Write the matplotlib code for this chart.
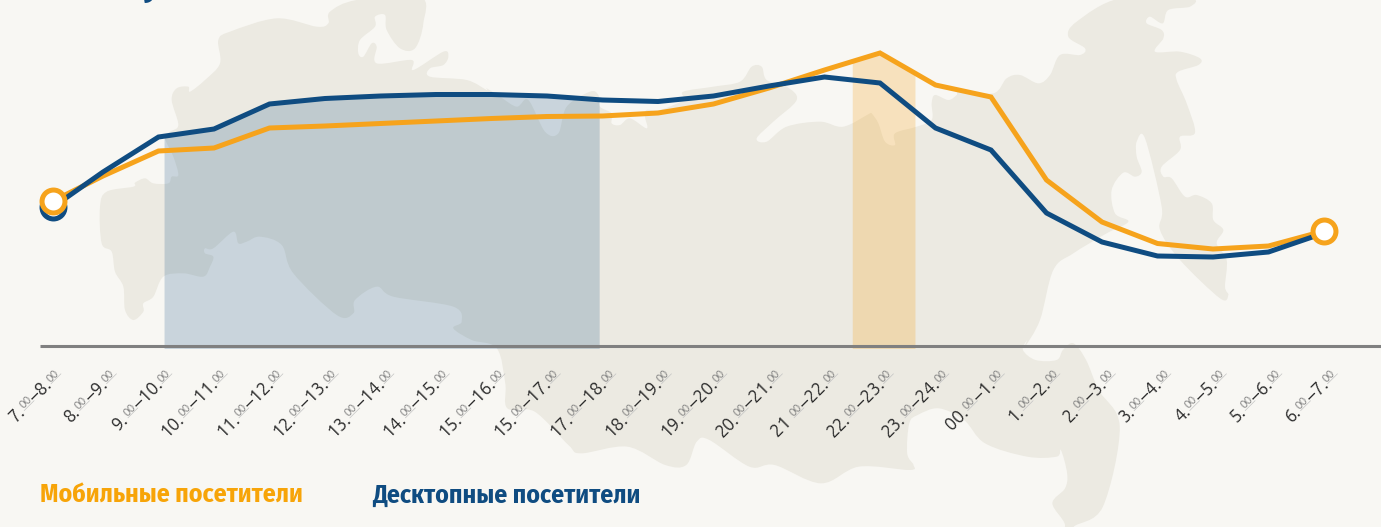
import numpy as np
import matplotlib
matplotlib.use('Agg')
import matplotlib.pyplot as plt
from matplotlib.path import Path
from matplotlib.patches import PathPatch

# hourly slots, the first point sits a little to the right of its slot
slots = [0.1] + list(range(1, 24))
mobile = [145, 170, 195, 198, 218, 220, 222.5, 225, 227.5, 229.5, 230, 233, 242,
          258, 276, 293, 261, 249, 166, 124, 102.5, 97, 100, 115]
desktop = [139, 174, 209, 217, 242, 247.5, 250, 251.5, 251.5, 250, 246, 244.5, 250,
           260, 269, 263, 218, 196, 133, 104, 90, 89, 94, 113]
tick_labels = ['7.|00|–8.|00', '8.|00|–9.|00', '9.|00|–10.|00', '10.|00|–11.|00',
               '11.|00|–12.|00', '12.|00|–13.|00', '13.|00|–14.|00', '14.|00|–15.|00',
               '15.|00|–16.|00', '15.|00|–17.|00', '17.|00|–18.|00', '18.|00|–19.|00',
               '19.|00|–20.|00', '20.|00|–21.|00', '21 |00|–22.|00', '22.|00|–23.|00',
               '23.|00|–24.|00', '00.|00|–1.|00', '1.|00|–2.|00', '2.|00|–3.|00',
               '3.|00|–4.|00', '4.|00|–5.|00', '5.|00|–6.|00', '6.|00|–7.|00']
desktop_band = (2.1, 9.94)
mobile_band = (14.5, 15.63)

BG = '#f8f7f3'
LAND = '#eceae2'
ORANGE = '#f6a31c'
BLUE = '#0f4c81'

# background map outline (pixels)
west_north = [(30, 620), (50, 575), (130, 560), (135, 548), (165, 535), (190, 550), (235, 550), (245, 530),
              (265, 525), (250, 470), (225, 415), (240, 395), (265, 375), (245, 300), (260, 265), (295, 260),
              (300, 275), (345, 240), (390, 190), (385, 120), (420, 95), (560, 55), (680, 80), (715, 70),
              (720, 35), (800, 0), (990, -10), (1000, 70), (975, 145), (930, 145), (890, 90), (885, 45),
              (855, 50), (855, 80), (810, 120), (805, 160), (820, 170), (845, 130), (860, 140), (860, 190),
              (965, 180), (970, 210), (1060, 155), (1075, 170), (1060, 195), (1020, 205), (1020, 230),
              (1130, 240), (1190, 270)]
mid_north = [(20, 265), (60, 290), (110, 320), (145, 300), (195, 395), (235, 400), (260, 320), (330, 275),
             (355, 285), (360, 320), (395, 340), (395, 370), (420, 375), (450, 355), (500, 385), (495, 350),
             (500, 330), (540, 330), (610, 300), (610, 275), (700, 260), (780, 245), (815, 200), (845, 200),
             (860, 240), (920, 260), (950, 300), (880, 365), (830, 415), (860, 425), (920, 380), (1020, 365),
             (1090, 380), (1170, 340)]
east = [(35, 340), (55, 370), (75, 425), (105, 435), (105, 400), (170, 380), (215, 360), (215, 310), (225, 285),
        (265, 300), (290, 285), (300, 270), (400, 280), (440, 235), (480, 225), (535, 250), (570, 225), (600, 165),
        (660, 165), (675, 145), (625, 110), (650, 65), (780, -5), (990, -5), (990, 20), (925, 30), (908, 70),
        (870, 50), (860, 70), (905, 90), (910, 115), (885, 155), (960, 155), (1020, 175), (1015, 195), (955, 215),
        (950, 240), (980, 310), (1005, 398), (960, 410), (960, 450), (905, 500), (910, 530), (935, 535), (975, 590),
        (1010, 585), (1055, 610), (1060, 660), (1090, 690), (1070, 730), (1100, 780), (1095, 860), (1105, 885),
        (1080, 895), (960, 780), (900, 690), (905, 620), (855, 415), (830, 425), (830, 470), (845, 515), (825, 530),
        (790, 518), (755, 570), (765, 640), (805, 665), (740, 700), (640, 760), (580, 810), (540, 960), (495, 1040)]
south = [(1300, 0), (1290, 30), (1320, 60), (1370, 60), (1385, 30), (1410, 10), (1440, 60), (1470, 150), (1520, 260),
         (1480, 500), (1410, 561), (1410, 600), (1370, 600), (1390, 555), (1360, 490), (1390, 445), (1395, 400),
         (1380, 330), (1370, 350), (1300, 350), (1200, 310), (1150, 240), (1090, 205), (1040, 225), (1020, 250),
         (1015, 340), (1030, 375), (1020, 390), (900, 380), (810, 430), (700, 375), (640, 380), (545, 300), (515, 305),
         (490, 375), (440, 375), (350, 320), (240, 340), (210, 315), (130, 215), (65, 205), (60, 130), (40, 25)]
west_south = [(1145, 1020), (1090, 985), (1115, 965), (1090, 920), (910, 890), (860, 860), (795, 900), (790, 940),
              (740, 945), (610, 820), (575, 735), (510, 710), (470, 725), (445, 730), (430, 695), (370, 745),
              (345, 745), (345, 760), (370, 770), (360, 800), (340, 830), (280, 820), (220, 830), (190, 890),
              (160, 910), (160, 935), (130, 960), (105, 930), (100, 860), (75, 815), (65, 755), (35, 730)]


def to_px(points, x0, y0, sx, sy):
    pts = np.array(points, dtype=float)
    return np.column_stack([x0 + pts[:, 0] / sx, y0 + pts[:, 1] / sy])


def smooth_closed(pts):
    # closed Catmull-Rom outline as bezier path
    n = len(pts)
    verts = [pts[0]]
    codes = [Path.MOVETO]
    for i in range(n):
        p0, p1, p2, p3 = pts[i - 1], pts[i], pts[(i + 1) % n], pts[(i + 2) % n]
        verts += [p1 + (p2 - p0) / 6, p2 - (p3 - p1) / 6, p2]
        codes += [Path.CURVE4] * 3
    return Path(np.array(verts), codes)


outline = np.vstack([
    to_px(west_north, 90, 0, 3, 3),
    to_px(mid_north, 480, 0, 3, 3),
    to_px(east, 860, 0, 3, 3),
    to_px(south, 480, 340, 2.376, 3),
    to_px(west_south, 90, 0, 3, 3),
])

fig = plt.figure(figsize=(13.81, 5.27), dpi=100, facecolor=BG)

# map layer in pixel coordinates
ax_map = fig.add_axes([0, 0, 1, 1])
ax_map.set_xlim(0, 1381)
ax_map.set_ylim(527, 0)
ax_map.axis('off')
ax_map.add_patch(PathPatch(smooth_closed(outline), facecolor=LAND, edgecolor='none'))

# chart layer
ax = fig.add_axes([0, 0, 1, 1], facecolor='none')
ax.set_xlim(-47.5 / 55.5, (1381 - 47.5) / 55.5)
ax.set_ylim(-181, 346)
ax.axis('off')


def under_line(band, values):
    inner = [s for s in slots if band[0] < s < band[1]]
    xs = [band[0]] + inner + [band[1]]
    return xs, np.interp(xs, slots, values)


xs, ys = under_line(desktop_band, desktop)
ax.fill_between(xs, -2.5, ys, color=BLUE, alpha=0.2, lw=0)
xs, ys = under_line(mobile_band, mobile)
ax.fill_between(xs, -2.5, ys, color=ORANGE, alpha=0.25, lw=0)

ax.plot([-0.135, 25], [-0.3, -0.3], color='#808080', lw=2.2, solid_capstyle='butt')

ax.plot(slots, mobile, color=ORANGE, lw=3.6, solid_joinstyle='miter')
ax.plot(slots, desktop, color=BLUE, lw=3.6, solid_joinstyle='miter')
ax.plot(slots[0], desktop[0], 'o', ms=16.5, mfc='white', mec=BLUE, mew=3.6)
ax.plot([slots[0], slots[-1]], [mobile[0], mobile[-1]], 'o', ms=16.5, mfc='white', mec=ORANGE, mew=3.6)

# rotated tick labels, built from pieces so the minutes can be small and underlined
renderer = fig.canvas.get_renderer()
LABEL_FONT = ['Ubuntu', 'Lato', 'DejaVu Sans']
cos45 = np.cos(np.pi / 4)


def width_of(s, size):
    t = ax_map.text(0, 0, s, fontsize=size, family=LABEL_FONT, fontweight='light')
    w = t.get_window_extent(renderer).width
    t.remove()
    return w


for i, label in enumerate(tick_labels):
    parts = label.split('|')
    sizes = [13 if k % 2 == 0 else 8.5 for k in range(len(parts))]
    widths = [width_of(p, s) + 0.6 for p, s in zip(parts, sizes)]
    end_x = 47.5 + 55.5 * i + 15.5
    end_y = 372
    total = sum(widths)
    px = end_x - total * cos45
    py = end_y + total * cos45 + 4
    for k, (part, size, w) in enumerate(zip(parts, sizes, widths)):
        small = k % 2 == 1
        # small minutes sit raised, perpendicular to the text direction
        lift = 4.5 if small else 0
        tx = px - lift * cos45
        ty = py - lift * cos45
        ax_map.text(tx, ty, part, fontsize=size, family=LABEL_FONT, fontweight='light',
                    color='#808080' if small else '#2a2a2a', rotation=45,
                    rotation_mode='anchor', ha='left', va='baseline')
        if small:
            ux = px - 3 * cos45
            uy = py - 3 * cos45
            ax_map.plot([ux, ux + w * cos45], [uy, uy - w * cos45], color='#c4c4c4', lw=0.5)
        px += w * cos45
        py -= w * cos45

# legend
LEGEND_FONT = ['Fira Sans Condensed', 'Roboto Condensed', 'Liberation Sans Narrow', 'Liberation Sans', 'DejaVu Sans']
ax_map.text(40, 503, 'Мобильные посетители', color='#f7a408', fontsize=18.5, fontweight='bold',
            family=LEGEND_FONT, ha='left', va='baseline')
ax_map.text(372, 503, 'Десктопные посетители', color=BLUE, fontsize=18.5, fontweight='bold',
            family=LEGEND_FONT, ha='left', va='baseline')

# tail of the heading that is cut off by the top edge
ax_map.text(150, 3, 'у', color=BLUE, fontsize=24, fontweight='bold', family=LEGEND_FONT,
            ha='center', va='bottom')

ax_map.set_xlim(0, 1381)
ax_map.set_ylim(527, 0)
fig.savefig('out.png', dpi=100, facecolor=BG)
